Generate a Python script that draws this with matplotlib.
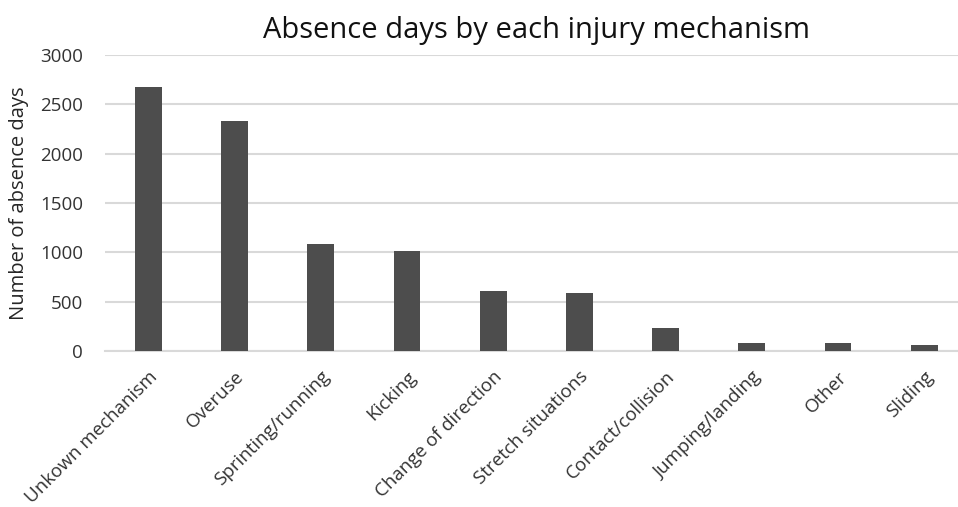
# Absence days by injury mechanism - bar chart
import numpy as np
import matplotlib.pyplot as plt

plt.rcParams['font.family'] = ['Open Sans', 'DejaVu Sans']

# Data
mechanisms = ['Unkown mechanism', 'Overuse', 'Sprinting/running', 'Kicking',
              'Change of direction', 'Stretch situations', 'Contact/collision',
              'Jumping/landing', 'Other', 'Sliding']
absence_days = [2680, 2330, 1085, 1012, 608, 588, 233, 84, 84, 61]
yticks = [0, 500, 1000, 1500, 2000, 2500, 3000]

fig = plt.figure(figsize=(9.58, 5.07), dpi=100)
# plot area runs a little past the right edge, as in the cropped original
ax = fig.add_axes([0.1098, 0.3077, 0.9, 0.5838])

x = np.arange(len(mechanisms))
ax.bar(x, absence_days, width=0.31, color='#4d4d4d', zorder=3)

ax.set_ylim(0, 3000)
ax.set_xlim(-0.5, len(mechanisms) - 0.5)
ax.set_yticks(yticks)
ax.set_yticklabels([str(t) for t in yticks], fontsize=13.5, color='#333333')
ax.set_xticks(x)
ax.set_xticklabels(mechanisms, rotation=45, ha='right', rotation_mode='anchor',
                   fontsize=13.5, color='#333333')
ax.tick_params(axis='y', length=0, pad=16)
ax.tick_params(axis='x', length=0, pad=12)
ax.grid(axis='y', color='#d9d9d9', linewidth=1.5, zorder=0)

for s in ['top', 'right', 'left']:
    ax.spines[s].set_visible(False)
ax.spines['bottom'].set_color('#d9d9d9')
ax.spines['bottom'].set_linewidth(1.5)

ax.set_ylabel('Number of absence days', fontsize=14.5, color='#262626')
ax.yaxis.set_label_coords(-0.088, 0.5)
ax.set_title('Absence days by each injury mechanism', fontsize=21, color='#111111', pad=12)

fig.savefig('out.png', dpi=100)
